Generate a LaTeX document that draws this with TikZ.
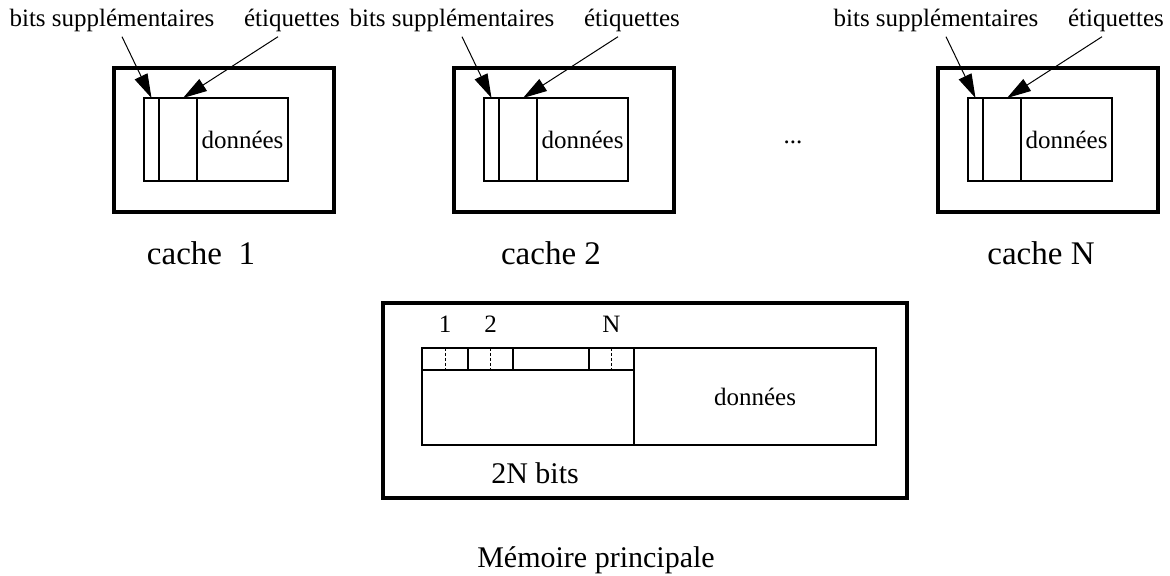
\documentclass[tikz,border=0pt]{standalone}
\usepackage{fontspec}
\setmainfont{Liberation Serif}
\usetikzlibrary{arrows.meta,positioning}

\begin{document}
\begin{tikzpicture}[
  x=0.5pt, y=-0.5pt,
  petit/.style={font=\fontsize{12.5}{14}\selectfont, inner sep=0pt},
  grand/.style={font=\fontsize{15}{18}\selectfont, inner sep=0pt},
  cadre/.style={draw, line width=2.3pt, outer sep=0pt, inner sep=0pt},
  case/.style={draw, line width=0.6pt, outer sep=0pt, inner sep=0pt},
  pointille/.style={line width=0.4pt, dash pattern=on 1.5pt off 1pt},
  fleche/.style={-{Triangle[length=12pt, width=7pt]}, line width=0.5pt}
]
\useasboundingbox (0,0) rectangle (1170,576);

% les N caches
\foreach \L/\lx/\nom [count=\i] in {144/201/cache~~1, 484/551/cache 2, 968/1041/cache N} {
  \node[cadre, minimum width=110pt, minimum height=72pt, anchor=north west]
    (boite\i) at (\L-30,68) {};
  \node[case, minimum width=7.5pt, minimum height=41.5pt, anchor=north west]
    (sup\i) at (\L,98) {};
  \node[case, line width=0.9pt, minimum width=19pt, minimum height=41.5pt, right=0pt of sup\i]
    (etq\i) {};
  \node[case, minimum width=45.5pt, minimum height=41.5pt, right=0pt of etq\i, petit]
    (don\i) {données};
  \node[petit, anchor=base] (bits\i) at (\L-32,27) {bits supplémentaires};
  \node[petit, anchor=base] (etiq\i) at (\L+148,27) {étiquettes};
  \node[grand, font=\fontsize{16.5}{19}\selectfont, anchor=base] (nom\i) at (\lx,265) {\nom};
  \draw[fleche] ([xshift=5pt,yshift=-2pt]bits\i.south) -- (sup\i.north);
  \draw[fleche] ([xshift=-7pt,yshift=-2pt]etiq\i.south) -- ([xshift=2.5pt]etq\i.north);
}
\node[petit] (points) at (793,142) {...};

% memoire principale
\node[cadre, minimum width=262pt, minimum height=97.5pt, anchor=north west]
  (mem) at (383,303) {};
\node[case, minimum width=23pt, minimum height=11pt, anchor=north west] (c1) at (422,348) {};
\node[case, minimum width=22.5pt, minimum height=11pt, right=0pt of c1] (c2) {};
\node[case, minimum width=38pt, minimum height=11pt, right=0pt of c2] (c3) {};
\node[case, minimum width=22.5pt, minimum height=11pt, right=0pt of c3] (cN) {};
\node[case, minimum width=106pt, minimum height=37.5pt, anchor=north west]
  (bas) at (c1.south west) {};
\node[case, minimum width=121pt, minimum height=48.5pt, anchor=north west, petit]
  (memdon) at (cN.north east) {données};
\draw[pointille] (c1.north) -- (c1.south);
\draw[pointille] (c2.north) -- (c2.south);
\draw[pointille] (cN.north) -- (cN.south);
\node[petit, above=7.5pt of c1] (n1) {1};
\node[petit, above=7.5pt of c2] (n2) {2};
\node[petit, above=7.5pt of cN] (nN) {N};
\node[grand, anchor=base] (taille) at (535,483) {2N bits};
\node[grand, anchor=base] (titre) at (596,567) {Mémoire principale};
\end{tikzpicture}
\end{document}
